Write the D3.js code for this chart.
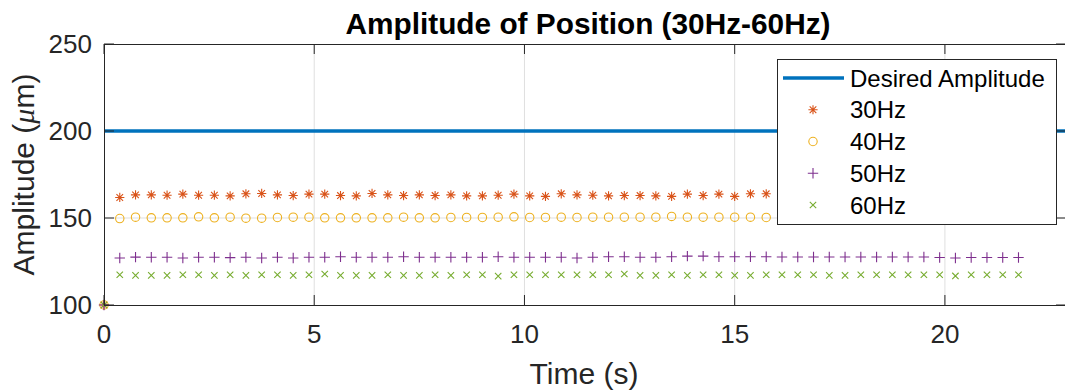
<!DOCTYPE html>
<html>
<head>
<meta charset="utf-8">
<script src="https://cdn.jsdelivr.net/npm/d3@7/dist/d3.min.js"></script>
<style>
  html, body { margin: 0; padding: 0; background: #fff; }
  svg { display: block; font-family: "Liberation Sans", Arial, Helvetica, sans-serif; }
</style>
</head>
<body>
<svg id="chart" width="1065" height="392"></svg>
<script>
// Sample times (s)
const time = [0, 0.375, 0.75, 1.125, 1.5, 1.875, 2.25, 2.625, 3, 3.375, 3.75, 4.125, 4.5, 4.875,
  5.25, 5.625, 6, 6.375, 6.75, 7.125, 7.5, 7.875, 8.25, 8.625, 9, 9.375, 9.75, 10.125, 10.5,
  10.875, 11.25, 11.625, 12, 12.375, 12.75, 13.125, 13.5, 13.875, 14.25, 14.625, 15, 15.375,
  15.75, 16.125, 16.5, 16.875, 17.25, 17.625, 18, 18.375, 18.75, 19.125, 19.5, 19.875, 20.25,
  20.625, 21, 21.375, 21.75];

// Measured amplitude (µm) for each drive frequency
const amp30 = [100, 161.8, 163.3, 163.3, 163.1, 163.7, 163.1, 163.1, 162.7, 163.9, 164.1,
  163.3, 162.9, 163.7, 163.7, 162.9, 162.7, 164.1, 163.3, 162.9, 163.3, 162.9,
  163.3, 162.7, 162.7, 163.1, 163.7, 162.7, 162.4, 163.9, 163.3, 163.1,
  162.7, 162.9, 162.9, 162.7, 162.4, 163.7, 162.9, 163.7, 162.4, 163.9, 163.9,
  163.2, 162.8, 163.5, 163.0, 162.7, 163.4, 163.1, 162.9, 163.6, 163.0, 162.8, 163.3, 163.1, 162.6, 163.4, 163.0];
const amp40 = [100, 149.7, 150.5, 150.1, 150.1, 150.1, 150.7, 150.1, 150.5, 149.9, 149.9,
  150.3, 150.5, 150.5, 150.1, 150.1, 150.1, 150.1, 150.1, 150.5, 150.1, 150.1,
  150.3, 150.3, 150.3, 150.5, 150.7, 150.3, 150.3, 150.5, 150.3, 150.5,
  150.5, 150.5, 150.5, 150.5, 150.9, 150.5, 150.5, 150.5, 150.5, 150.5, 150.3,
  150.4, 150.2, 150.5, 150.3, 150.6, 150.2, 150.4, 150.5, 150.3, 150.4, 150.6, 150.2, 150.4, 150.3, 150.5, 150.4];
const amp50 = [100, 127.0, 127.5, 127.4, 127.4, 127.0, 127.4, 127.4, 127.2, 127.4, 127.0,
  127.4, 127.0, 127.4, 127.4, 127.7, 127.4, 127.4, 127.4, 127.7, 127.4, 127.4,
  127.4, 127.4, 127.4, 127.7, 127.4, 127.4, 127.4, 127.4, 127.0, 127.4,
  127.7, 127.7, 127.4, 127.4, 127.7, 128.1, 128.1, 127.7, 127.7, 127.7, 127.7,
  127.6, 127.6, 127.6, 127.6, 127.6, 127.6, 127.6, 127.6, 127.6, 127.6,
  127.3, 127.0, 127.3, 127.3, 127.3, 127.3];
const amp60 = [100, 117.4, 117.0, 117.0, 117.0, 117.4, 117.4, 117.0, 117.4, 117.0, 117.4,
  117.4, 117.0, 117.4, 117.8, 117.0, 117.0, 117.0, 117.4, 117.0, 117.0, 117.4,
  117.0, 117.4, 117.4, 116.6, 117.4, 117.4, 117.4, 117.4, 117.4, 117.4,
  117.4, 117.8, 117.0, 117.0, 117.4, 117.0, 117.4, 117.4, 117.0, 117.0, 117.4,
  117.4, 117.4, 117.4, 117.0, 117.0, 117.4, 117.4, 117.4, 117.4, 117.4,
  117.4, 116.7, 117.4, 117.4, 117.4, 117.4];

const desired = 200;
const seriesNames = ["30Hz", "40Hz", "50Hz", "60Hz"];
const xTicks = [0, 5, 10, 15, 20];
const yTicks = [100, 150, 200, 250];

const colors = { desired: "#0072BD", "30Hz": "#D95319", "40Hz": "#EDB120", "50Hz": "#7E2F8E", "60Hz": "#77AC30" };
const axisColor = "#262626";

const svg = d3.select("#chart");
const plot = { left: 104, top: 44, right: 1066, bottom: 305 };

const x = d3.scaleLinear().domain([0, 22.88]).range([plot.left, plot.right]);
const y = d3.scaleLinear().domain([100, 250]).range([plot.bottom, plot.top]);

// Grid
const grid = svg.append("g").attr("stroke", "#dfdfdf").attr("stroke-width", 1);
xTicks.filter(d => d > 0).forEach(t => grid.append("line")
  .attr("x1", x(t)).attr("x2", x(t)).attr("y1", plot.top).attr("y2", plot.bottom));
yTicks.filter(d => d > 100 && d < 250).forEach(t => grid.append("line")
  .attr("x1", plot.left).attr("x2", plot.right).attr("y1", y(t)).attr("y2", y(t)));

// Desired amplitude reference line
svg.append("line")
  .attr("x1", x(0)).attr("x2", plot.right)
  .attr("y1", y(desired)).attr("y2", y(desired))
  .attr("stroke", colors.desired).attr("stroke-width", 3.5);

// Marker shapes
function markerPath(kind) {
  if (kind === "30Hz") {
    const r = 4.6, d = r * 0.72;
    return `M${-r},0L${r},0M0,${-r}L0,${r}M${-d},${-d}L${d},${d}M${-d},${d}L${d},${-d}`;
  }
  if (kind === "40Hz") {
    const r = 4.2;
    return `M${r},0A${r},${r} 0 1,1 ${-r},0A${r},${r} 0 1,1 ${r},0Z`;
  }
  if (kind === "50Hz") {
    const r = 5.2;
    return `M${-r},0L${r},0M0,${-r}L0,${r}`;
  }
  const r = 3.2;
  return `M${-r},${-r}L${r},${r}M${-r},${r}L${r},${-r}`;
}

const seriesData = { "30Hz": amp30, "40Hz": amp40, "50Hz": amp50, "60Hz": amp60 };
seriesNames.forEach(name => {
  svg.append("g")
    .selectAll("path")
    .data(time.map((t, i) => [t, seriesData[name][i]]))
    .join("path")
    .attr("transform", d => `translate(${x(d[0])},${y(d[1])})`)
    .attr("d", markerPath(name))
    .attr("fill", "none")
    .attr("stroke", colors[name])
    .attr("stroke-width", 1.1);
});

// Axes box
const box = svg.append("g").attr("stroke", axisColor).attr("stroke-width", 1).attr("fill", "none");
box.append("rect")
  .attr("x", plot.left + 0.5).attr("y", plot.top + 0.5)
  .attr("width", plot.right - plot.left).attr("height", plot.bottom - plot.top);

// Ticks (inward, mirrored)
const tickLen = 10;
xTicks.forEach(t => {
  box.append("line").attr("x1", x(t)).attr("x2", x(t)).attr("y1", plot.bottom).attr("y2", plot.bottom - tickLen);
  box.append("line").attr("x1", x(t)).attr("x2", x(t)).attr("y1", plot.top).attr("y2", plot.top + tickLen);
});
yTicks.forEach(t => {
  box.append("line").attr("x1", plot.left).attr("x2", plot.left + tickLen).attr("y1", y(t)).attr("y2", y(t));
  box.append("line").attr("x1", plot.right).attr("x2", plot.right - tickLen).attr("y1", y(t)).attr("y2", y(t));
});

// Tick labels
svg.append("g").selectAll("text").data(xTicks).join("text")
  .attr("x", d => x(d)).attr("y", 343)
  .attr("text-anchor", "middle").attr("font-size", 26).attr("fill", axisColor)
  .text(d => d);
svg.append("g").selectAll("text").data(yTicks).join("text")
  .attr("x", 92).attr("y", d => y(d)).attr("dy", "0.36em")
  .attr("text-anchor", "end").attr("font-size", 26).attr("fill", axisColor)
  .text(d => d);

// Axis labels
svg.append("text")
  .attr("x", (plot.left + plot.right) / 2 - 1).attr("y", 384)
  .attr("text-anchor", "middle").attr("font-size", 30).attr("fill", axisColor)
  .text("Time (s)");

const yl = svg.append("text")
  .attr("transform", `translate(34,${(plot.top + plot.bottom) / 2}) rotate(-90)`)
  .attr("text-anchor", "middle").attr("font-size", 30).attr("fill", axisColor);
yl.append("tspan").text("Amplitude (");
yl.append("tspan").attr("font-family", "'Liberation Serif', 'DejaVu Serif', serif").attr("font-style", "italic").text("μ");
yl.append("tspan").text("m)");

// Title
svg.append("text")
  .attr("x", (plot.left + plot.right) / 2 + 3).attr("y", 34)
  .attr("text-anchor", "middle").attr("font-size", 29.8).attr("font-weight", "bold").attr("fill", "#000")
  .text("Amplitude of Position (30Hz-60Hz)");

// Legend
const legend = svg.append("g");
legend.append("rect")
  .attr("x", 777.5).attr("y", 59.5).attr("width", 279).attr("height", 165)
  .attr("fill", "#fff").attr("stroke", axisColor).attr("stroke-width", 1);
const rowY = d3.scalePoint().domain(["Desired Amplitude", ...seriesNames]).range([78, 205]);
legend.append("line")
  .attr("x1", 783).attr("x2", 844).attr("y1", rowY("Desired Amplitude")).attr("y2", rowY("Desired Amplitude"))
  .attr("stroke", colors.desired).attr("stroke-width", 3.5);
seriesNames.forEach(name => {
  legend.append("path")
    .attr("transform", `translate(813,${rowY(name)})`)
    .attr("d", markerPath(name))
    .attr("fill", "none").attr("stroke", colors[name]).attr("stroke-width", 1.1);
});
legend.selectAll("text").data(rowY.domain()).join("text")
  .attr("x", 850).attr("y", d => rowY(d)).attr("dy", "0.36em")
  .attr("font-size", 24).attr("fill", "#000")
  .text(d => d);
</script>
</body>
</html>
